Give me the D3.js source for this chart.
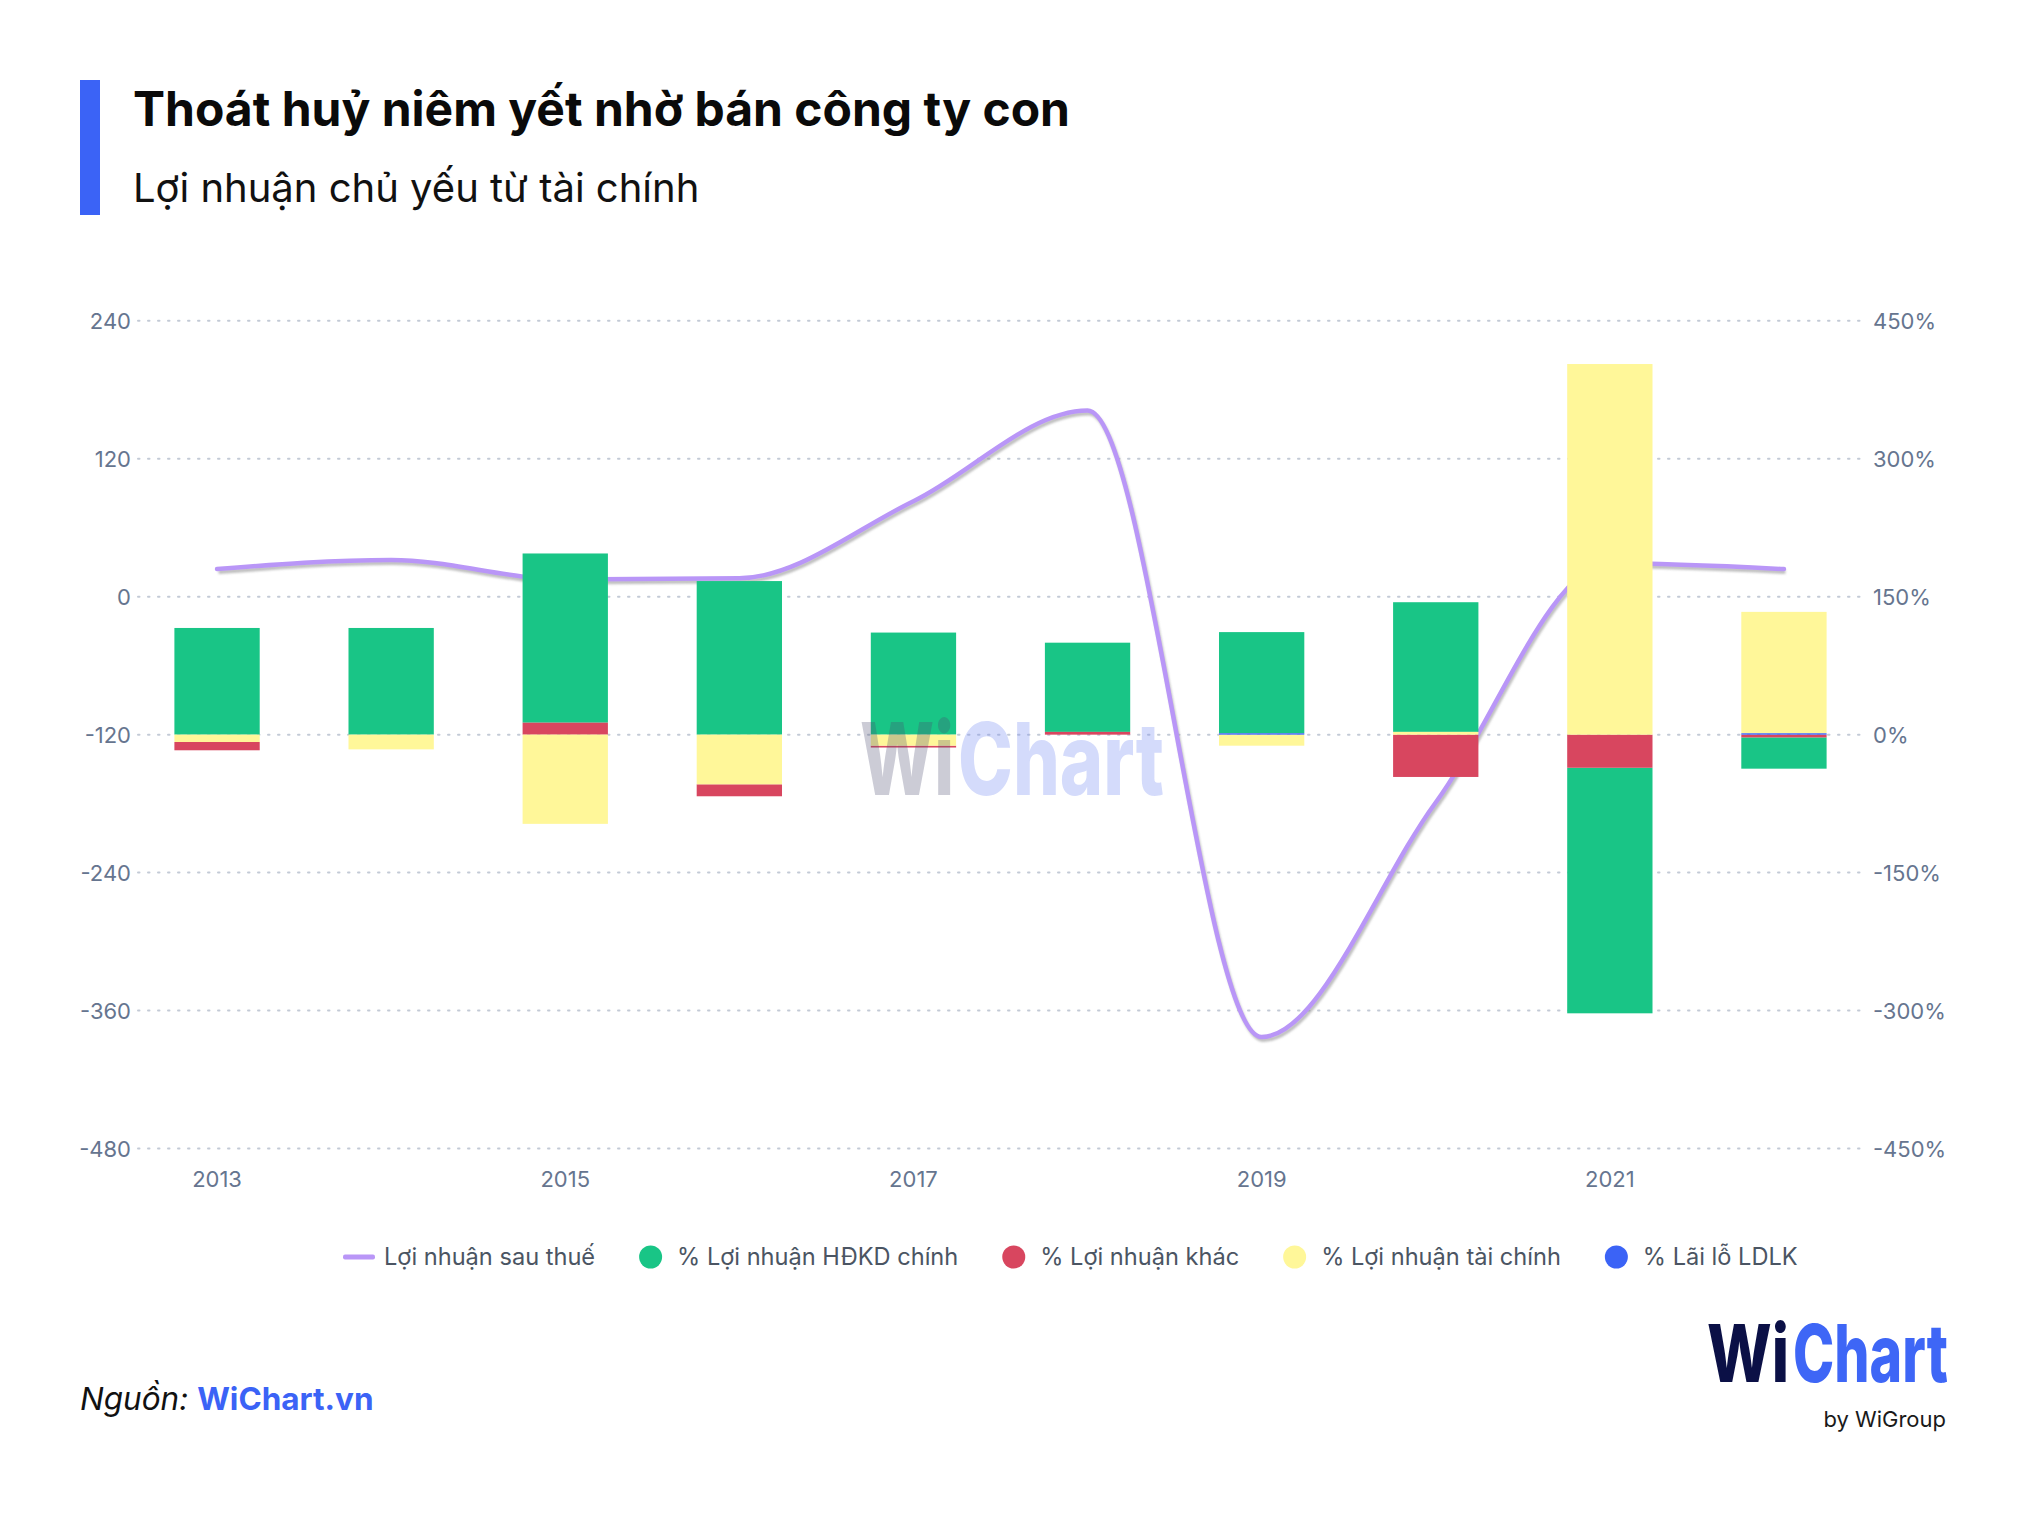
<!DOCTYPE html>
<html>
<head>
<meta charset="utf-8">
<script src="https://cdn.jsdelivr.net/npm/d3@7"></script>
<style>
  body { margin: 0; background: #fff; }
  svg { display: block; }
  text { font-family: Inter, "Noto Sans", "DejaVu Sans", sans-serif; }
</style>
</head>
<body>
<svg id="chart" width="2028" height="1516"></svg>
<script>
// ---------------- DATA ----------------
const years = ["2013","2014","2015","2016","2017","2018","2019","2020","2021","2022"];
const xTickLabels = ["2013","2015","2017","2019","2021"];
// Lợi nhuận sau thuế (left axis)
const profitAfterTax = [24, 32, 15, 16, 83, 162, -383, -179, 29, 24];
// % series (right axis)
const pctHDKD    = [116, 116, 184, 167, 111, 97, 110, 141, -267, -34];
const pctKhac    = [-9, 0, 13, -13, -2, 3, 0, -46, -36, -3];
const pctTaiChinh= [-8, -16, -97, -54, -12, 0, -12, 3, 403, 132];
const pctLDLK    = [0, 0, 0, 0, 0, 0, 1.5, 0, 0, 1.5];
const seriesNames = ["Lợi nhuận sau thuế", "% Lợi nhuận HĐKD chính", "% Lợi nhuận khác", "% Lợi nhuận tài chính", "% Lãi lỗ LDLK"];
const leftTicks  = [-480, -360, -240, -120, 0, 120, 240];
const rightTicks = [-450, -300, -150, 0, 150, 300, 450];

// ---------------- STYLE ----------------
const colors = {
  line: "#b996f7",
  hdkd: "#19c586",
  khac: "#d8465f",
  taichinh: "#fff799",
  ldlk: "#3b63f6"
};
const accent = "#3b63f6";
const axisColor = "#66758f";

const svg = d3.select("#chart");

// Header
svg.append("rect").attr("x", 80).attr("y", 80).attr("width", 20).attr("height", 135).attr("fill", accent);
svg.append("text").attr("x", 133).attr("y", 126)
  .attr("font-size", 48).attr("font-weight", 700).attr("fill", "#0a0a0a")
  .text("Thoát huỷ niêm yết nhờ bán công ty con");
svg.append("text").attr("x", 133).attr("y", 202)
  .attr("font-size", 40).attr("font-weight", 400).attr("fill", "#111")
  .text("Lợi nhuận chủ yếu từ tài chính");

// Scales
const x = d3.scaleBand().domain(years).range([130, 1871]).paddingInner(0.51).paddingOuter(0.255);
const yL = d3.scaleLinear().domain([-480, 240]).range([1148.5, 320.8]);
const yR = d3.scaleLinear().domain([-450, 450]).range([1148.5, 320.8]);

// Gridlines
const grid = svg.append("g");
grid.selectAll("line").data(leftTicks).join("line")
  .attr("x1", 138).attr("x2", 1864)
  .attr("y1", d => yL(d)).attr("y2", d => yL(d))
  .attr("stroke", "#c3cad6").attr("stroke-width", 2)
  .attr("stroke-dasharray", "1.5,8.5").attr("stroke-linecap", "round");

// Left axis
const leftAxis = d3.axisLeft(yL).tickValues(leftTicks).tickSize(0).tickPadding(0).tickFormat(d => String(d));
const gL = svg.append("g").attr("transform", "translate(131,0)").call(leftAxis);
gL.select(".domain").remove();
gL.selectAll("text").attr("font-size", 22).attr("fill", axisColor).attr("font-family", "Inter, sans-serif").attr("dy", "0.35em");

// Right axis
const rightAxis = d3.axisRight(yR).tickValues(rightTicks).tickSize(0).tickPadding(0).tickFormat(d => String(d) + "%");
const gR = svg.append("g").attr("transform", "translate(1873,0)").call(rightAxis);
gR.select(".domain").remove();
gR.selectAll("text").attr("font-size", 22).attr("fill", axisColor).attr("font-family", "Inter, sans-serif").attr("dy", "0.35em");

// Bottom axis
const bottomAxis = d3.axisBottom(x).tickValues(xTickLabels).tickSize(0).tickPadding(0);
const gB = svg.append("g").attr("transform", "translate(0,1171)").call(bottomAxis);
gB.select(".domain").remove();
gB.selectAll("text").attr("font-size", 22).attr("fill", axisColor).attr("font-family", "Inter, sans-serif").attr("dy", "0.71em");

// Line (behind bars)
const lineGen = d3.line()
  .x((d, i) => x(years[i]) + x.bandwidth() / 2)
  .y(d => yL(d))
  .curve(d3.curveMonotoneX);

const defs = svg.append("defs");
defs.append("filter").attr("id", "blur").append("feGaussianBlur").attr("stdDeviation", 1.2);

svg.append("path").datum(profitAfterTax)
  .attr("d", lineGen).attr("fill", "none")
  .attr("stroke", "#8a8a8a").attr("stroke-opacity", 0.55).attr("stroke-width", 4)
  .attr("transform", "translate(1.5,3)").attr("filter", "url(#blur)");
svg.append("path").datum(profitAfterTax)
  .attr("d", lineGen).attr("fill", "none")
  .attr("stroke", colors.line).attr("stroke-width", 4.5).attr("stroke-linecap", "round");

// Stacked bars
const keys = ["hdkd", "khac", "taichinh", "ldlk"];
const rows = years.map((y, i) => ({
  year: y, hdkd: pctHDKD[i], khac: pctKhac[i], taichinh: pctTaiChinh[i], ldlk: pctLDLK[i]
}));
const stack = d3.stack().keys(keys).order(d3.stackOrderReverse).offset(d3.stackOffsetDiverging);
const stacked = stack(rows);

const barsG = svg.append("g");
stacked.forEach(layer => {
  barsG.append("g").attr("fill", colors[layer.key])
    .selectAll("rect")
    .data(layer.filter(d => d[1] !== d[0]))
    .join("rect")
    .attr("x", d => x(d.data.year))
    .attr("width", x.bandwidth())
    .attr("y", d => yR(Math.max(d[0], d[1])))
    .attr("height", d => Math.abs(yR(d[0]) - yR(d[1])));
});

// helper: text squeezed horizontally to a target width via transform
function squeezedText(parent, str, px, py, size, targetW, fill, opacity) {
  const g = parent.append("g");
  const t = g.append("text").attr("x", 0).attr("y", 0)
    .attr("font-size", size).attr("font-weight", 800)
    .attr("fill", fill).attr("opacity", opacity).text(str);
  const w = t.node().getComputedTextLength();
  g.attr("transform", `translate(${px},${py}) scale(${targetW / w},1)`);
  return g;
}

// Watermark (over bars, translucent)
squeezedText(svg, "Wi", 860, 795, 100, 94, "#4a4a6e", 0.28);
squeezedText(svg, "Chart", 958, 795, 100, 206, "#7f93f3", 0.33);

// Legend
const legendY = 1257;
const legend = svg.append("g").attr("font-size", 23.6).attr("fill", "#4b5563");
let lx = 343;
seriesNames.forEach((name, i) => {
  if (i === 0) {
    legend.append("rect").attr("x", lx).attr("y", legendY - 2.5).attr("width", 32).attr("height", 5)
      .attr("rx", 2).attr("fill", colors.line);
    lx += 32 + 9;
  } else {
    const c = [colors.hdkd, colors.khac, colors.taichinh, colors.ldlk][i - 1];
    legend.append("circle").attr("cx", lx + 11.5).attr("cy", legendY).attr("r", 11.5).attr("fill", c);
    lx += 23 + 15;
  }
  const t = legend.append("text").attr("x", lx).attr("y", legendY).attr("dy", "0.35em")
    .attr("fill", "#4b5563").text(name);
  lx += t.node().getComputedTextLength() + 44;
});

// Source
const src = svg.append("text").attr("x", 80).attr("y", 1410).attr("font-size", 31.5);
src.append("tspan").attr("font-style", "italic").attr("fill", "#111").text("Nguồn: ");
src.append("tspan").attr("font-weight", 700).attr("fill", accent).text("WiChart.vn");

// Logo
squeezedText(svg, "Wi", 1707, 1382, 80, 82, "#0b1046", 1);
squeezedText(svg, "Chart", 1793, 1382, 80, 155, "#3e66f6", 1);
svg.append("text").attr("x", 1946).attr("y", 1427).attr("text-anchor", "end")
  .attr("font-size", 22).attr("fill", "#1a1a1a").text("by WiGroup");
</script>
</body>
</html>
